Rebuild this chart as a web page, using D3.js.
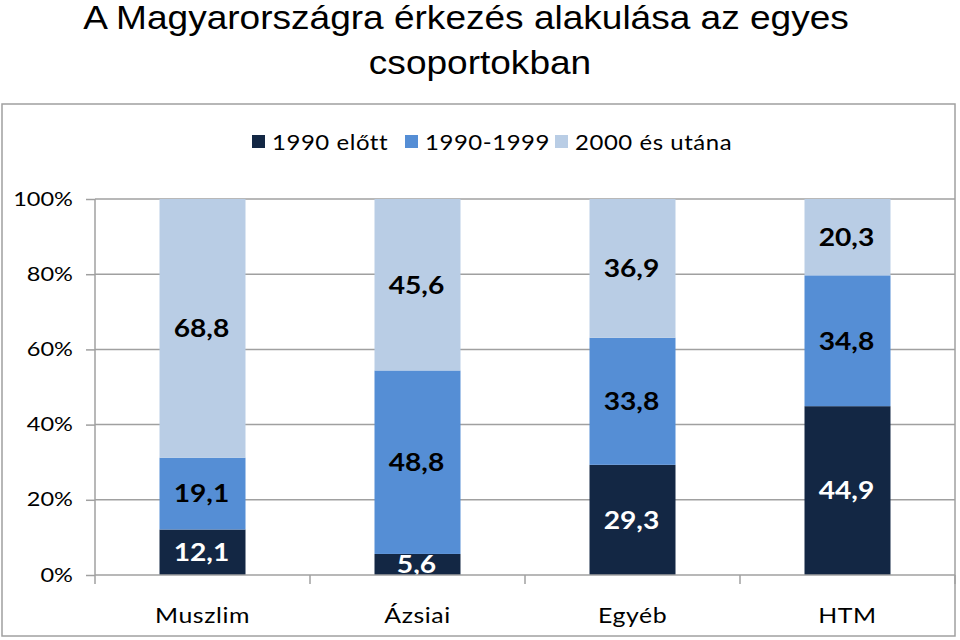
<!DOCTYPE html>
<html><head><meta charset="utf-8">
<script src="https://cdn.jsdelivr.net/npm/d3@7"></script>
<style>body{margin:0;background:#fff}svg{display:block}</style>
</head><body>
<svg id="c" width="960" height="640"></svg>
<script>
const categories = ["Muszlim", "Ázsiai", "Egyéb", "HTM"];
const seriesNames = ["1990 előtt", "1990-1999", "2000 és utána"];
const before1990 = [12.1, 5.6, 29.3, 44.9];
const s1990_1999 = [19.1, 48.8, 33.8, 34.8];
const after2000 = [68.8, 45.6, 36.9, 20.3];
const yTicks = [0, 20, 40, 60, 80, 100];
const colors = ["#132744", "#558ED5", "#B9CDE5"];
const labelColors = ["#ffffff", "#000000", "#000000"];

const series = [before1990, s1990_1999, after2000];
const svg = d3.select("#c");
const plot = {l: 95, r: 955, t: 199, b: 575};
const SX = 1.13; // horizontal stretch of the reference text
const font = "Lato, 'Open Sans', sans-serif";
const gridCol = "#a0a0a0";

// outer border
svg.append("rect").attr("x", 2).attr("y", 104).attr("width", 953).attr("height", 532)
  .attr("fill", "none").attr("stroke", gridCol).attr("stroke-width", 1.5);

// title
const titleLines = [["A Magyarországra érkezés alakulása az egyes", 466, 29], ["csoportokban", 480, 74]];
titleLines.forEach(([t, cx, by]) => {
  svg.append("text").attr("transform", `translate(${cx},${by}) scale(1.14,1)`)
    .attr("text-anchor", "middle")
    .attr("font-family", "Liberation Sans, Arial, sans-serif").attr("font-size", 32.5).attr("fill", "#000")
    .text(t);
});

const xb = d3.scaleBand().domain(categories).range([plot.l, plot.r]);
const y = d3.scaleLinear().domain([0, 100]).range([plot.b, plot.t]);

// gridlines
svg.append("g").selectAll("line").data(yTicks.filter(d => d > 0)).join("line")
  .attr("x1", plot.l).attr("x2", plot.r).attr("y1", d => y(d)).attr("y2", d => y(d))
  .attr("stroke", gridCol).attr("stroke-width", 1.5);

// stacked data
const rows = categories.map((c, i) => ({cat: c, s0: series[0][i], s1: series[1][i], s2: series[2][i]}));
const stack = d3.stack().keys(["s0", "s1", "s2"])(rows);

const bw = 86;
const cx = c => xb(c) + xb.bandwidth() / 2;
stack.forEach((layer, k) => {
  svg.append("g").selectAll("rect").data(layer).join("rect")
    .attr("x", d => cx(d.data.cat) - bw / 2)
    .attr("width", bw)
    .attr("y", d => y(d[1]))
    .attr("height", d => y(d[0]) - y(d[1]))
    .attr("fill", colors[k]);
});

// data labels
stack.forEach((layer, k) => {
  svg.append("g").selectAll("text").data(layer).join("text")
    .attr("transform", d => `translate(${cx(d.data.cat) - 1},${(y(d[0]) + y(d[1])) / 2}) scale(1.15,1)`)
    .attr("dy", "0.36em")
    .attr("text-anchor", "middle")
    .attr("font-family", font).attr("font-weight", "bold").attr("font-size", 24.5)
    .attr("fill", labelColors[k])
    .text(d => d3.format(".1f")(d[1] - d[0]).replace(".", ","));
});

// y axis
const yAxis = d3.axisLeft(y).tickValues(yTicks).tickSize(9).tickPadding(12).tickFormat(d => d + "%");
const ya = svg.append("g").attr("transform", `translate(${plot.l},0)`).call(yAxis);
ya.select(".domain").attr("stroke", gridCol).attr("stroke-width", 1.5).attr("d", `M0,${plot.t}V${plot.b}`);
ya.selectAll(".tick line").attr("stroke", gridCol).attr("stroke-width", 1.5);
ya.selectAll(".tick text").attr("x", 0).attr("transform", "translate(-22,0) scale(1.24,1)")
  .attr("font-family", font).attr("font-size", 19).attr("fill", "#000");

// x axis
const xAxis = d3.axisBottom(xb).tickSize(0).tickPadding(0);
const xa = svg.append("g").attr("transform", `translate(0,${plot.b})`).call(xAxis);
xa.select(".domain").attr("stroke", gridCol).attr("stroke-width", 1.5).attr("d", `M${plot.l},0H${plot.r}`);
xa.selectAll(".tick text").attr("y", 0).attr("dy", 0).attr("transform", `translate(0,48) scale(${SX},1)`)
  .attr("font-family", font).attr("font-size", 22).attr("fill", "#000").attr("letter-spacing", 0.5);
// category boundary ticks
const bounds = categories.map(c => xb(c)).concat([plot.r]);
xa.append("g").selectAll("line").data(bounds).join("line")
  .attr("x1", d => d).attr("x2", d => d).attr("y1", 0).attr("y2", 9)
  .attr("stroke", gridCol).attr("stroke-width", 1.5);

// legend
const legX = [252, 405, 555];
const lg = svg.append("g");
seriesNames.forEach((n, i) => {
  lg.append("rect").attr("x", legX[i]).attr("y", 135).attr("width", 13).attr("height", 13).attr("fill", colors[i]);
  lg.append("text").attr("transform", `translate(${legX[i] + 20},142) scale(${SX + 0.01},1)`).attr("dy", "0.36em")
    .attr("font-family", font).attr("font-size", 21).attr("fill", "#000").attr("letter-spacing", 0.5).text(n);
});
</script>
</body></html>
